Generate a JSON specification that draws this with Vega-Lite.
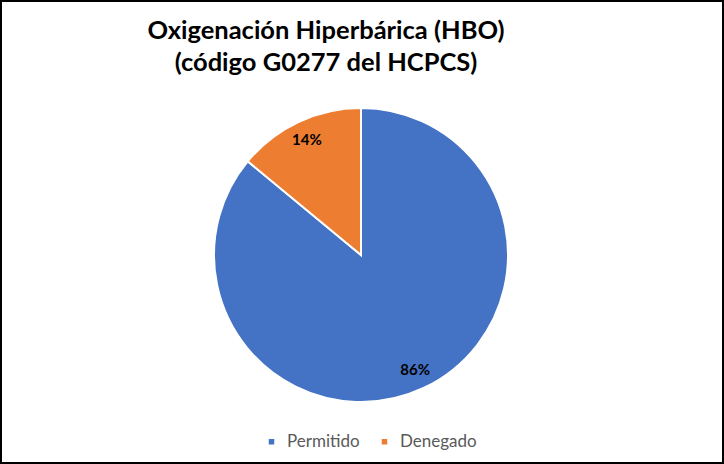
{
  "$schema": "https://vega.github.io/schema/vega-lite/v6.json",
  "width": 724,
  "height": 464,
  "autosize": "none",
  "padding": 0,
  "background": "white",
  "view": {"stroke": "black", "strokeWidth": 4},
  "config": {
    "font": "Lato"
  },
  "title": {
    "text": ["Oxigenación Hiperbárica (HBO)", "(código G0277 del HCPCS)"],
    "fontSize": 25.5,
    "fontWeight": "bold",
    "color": "black",
    "anchor": "middle",
    "dx": -36,
    "offset": -76,
    "lineHeight": 32
  },
  "data": {
    "values": [
      {"estado": "Permitido", "valor": 0.86, "orden": 1},
      {"estado": "Denegado", "valor": 0.14, "orden": 2}
    ]
  },
  "encoding": {
    "theta": {"field": "valor", "type": "quantitative", "stack": true},
    "order": {"field": "orden", "type": "quantitative"},
    "color": {
      "field": "estado",
      "type": "nominal",
      "sort": ["Permitido", "Denegado"],
      "scale": {"domain": ["Permitido", "Denegado"], "range": ["#4472C4", "#ED7D31"]},
      "legend": {
        "title": null,
        "orient": "none",
        "direction": "horizontal",
        "legendX": 263,
        "legendY": 433,
        "symbolType": "square",
        "symbolSize": 49,
        "labelFontSize": 17,
        "labelColor": "#595959",
        "labelOffset": 7,
        "columnPadding": 16
      }
    }
  },
  "layer": [
    {
      "mark": {"type": "arc", "radius": 147, "stroke": "white", "strokeWidth": 2, "yOffset": 23, "xOffset": -1}
    },
    {
      "mark": {"type": "text", "radius": 127, "fontSize": 15, "fontWeight": "bold", "color": "black", "yOffset": 23, "xOffset": -1},
      "encoding": {
        "text": {"field": "valor", "type": "quantitative", "format": ".0%"},
        "color": {"value": "black"}
      }
    }
  ]
}
